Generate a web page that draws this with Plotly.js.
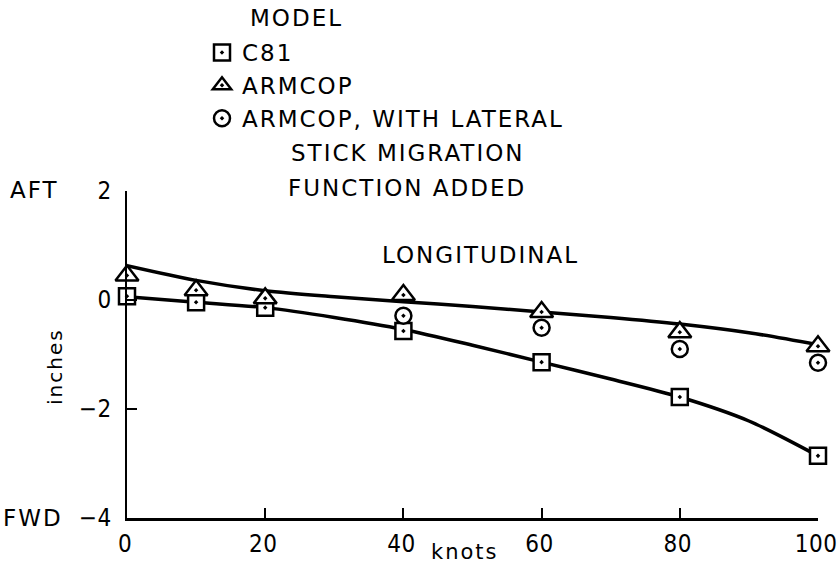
<!DOCTYPE html>
<html><head><meta charset="utf-8">
<script src="https://cdn.plot.ly/plotly-3.0.1.min.js"></script>
<style>
html,body{margin:0;padding:0;background:#fff;}
#chart{width:840px;height:570px;}
svg text{letter-spacing:2px;}
#chart g.xtick text,#chart g.ytick text{letter-spacing:0.5px;}
</style></head><body><div id="chart"></div>
<script>
// Data
const speedKnots = [0, 10, 20, 40, 60, 80, 100];
const c81Inches = [0.07, -0.04, -0.14, -0.57, -1.14, -1.78, -2.86];
const armcopInches = [0.45, 0.18, 0.03, 0.09, -0.22, -0.59, -0.85];
const lateralKnots = [40, 60, 80, 100];
const lateralInches = [-0.29, -0.51, -0.90, -1.15];
const fairKnots = [0, 10, 20, 30, 40, 50, 60, 70, 80, 90, 100];
const fairUpper = [0.63, 0.36, 0.17, 0.06, -0.03, -0.12, -0.22, -0.32, -0.44, -0.60, -0.82];
const fairLower = [0.06, -0.04, -0.14, -0.32, -0.54, -0.83, -1.14, -1.45, -1.78, -2.22, -2.86];
const xTicks = [0, 20, 40, 60, 80, 100];
const yTicks = [-4, -2, 0, 2];
const legendTitle = 'MODEL';
const seriesNames = ['C81', 'ARMCOP', 'ARMCOP, WITH LATERAL'];
const legendExtra = ['STICK MIGRATION', 'FUNCTION ADDED'];

const FONT = 'DejaVu Sans, sans-serif';
const TICKFONT = 'Liberation Sans Narrow, DejaVu Sans Condensed, Liberation Sans, sans-serif';
const L = 127, T = 191, W = 691, H = 327;
const px = x => (x - L) / W;
const py = y => (T + H - y) / H;

const lineStyle = {color: '#000', width: 3.5, shape: 'spline', smoothing: 0.8};
const mk = (sym, size) => ({symbol: sym, size: size, color: '#fff', line: {color: '#000', width: 2.5}});

const traces = [
  {x: fairKnots, y: fairUpper, mode: 'lines', line: lineStyle, showlegend: false, hoverinfo: 'skip', cliponaxis: false},
  {x: fairKnots, y: fairLower, mode: 'lines', line: lineStyle, showlegend: false, hoverinfo: 'skip', cliponaxis: false},
  {x: speedKnots, y: c81Inches, mode: 'markers', name: seriesNames[0], marker: mk('square-dot', 16), cliponaxis: false},
  {x: speedKnots, y: armcopInches, mode: 'markers', name: seriesNames[1], marker: mk('triangle-up-dot', 20), cliponaxis: false},
  {x: lateralKnots, y: lateralInches, mode: 'markers', name: seriesNames[2], marker: mk('circle-dot', 16), cliponaxis: false}
];

const txt = (text, x, y, size, xanchor, extra) => Object.assign({
  text: text, xref: 'paper', yref: 'paper', x: px(x), y: py(y),
  xanchor: xanchor || 'center', yanchor: 'middle', showarrow: false,
  font: {family: FONT, size: size || 23, color: '#000'}
}, extra || {});

const annotations = [
  txt(legendTitle, 248, 18, 23, 'left'),
  txt(legendExtra[0], 407, 153, 23),
  txt(legendExtra[1], 407, 188, 23),
  txt('LONGITUDINAL', 480, 255, 23),
  txt('AFT', 34, 190, 23),
  txt('FWD', 33, 518, 23),
  txt('inches', 55, 367, 20, 'center', {textangle: -90}),
  txt('knots', 465, 552, 21)
];

const axisBase = {
  showline: true, linecolor: '#000', linewidth: 2.5, ticks: 'inside', ticklen: 10, tickwidth: 2,
  tickcolor: '#000', showgrid: false, zeroline: false, mirror: false, fixedrange: true,
  ticklabeloverflow: 'allow',
  tickfont: {family: TICKFONT, size: 24, color: '#000'}
};

const layout = {
  width: 840, height: 570,
  margin: {l: L, r: 840 - L - W, t: T, b: 570 - T - H},
  paper_bgcolor: '#fff', plot_bgcolor: '#fff',
  showlegend: true,
  legend: {
    x: px(202), y: py(31), xanchor: 'left', yanchor: 'top', xref: 'paper', yref: 'paper',
    bgcolor: 'rgba(0,0,0,0)', borderwidth: 0, traceorder: 'normal', itemsizing: 'trace',
    font: {family: FONT, size: 23, color: '#000'}
  },
  xaxis: Object.assign({}, axisBase, {range: [0, 100], tickvals: xTicks, ticktext: xTicks.map(String), ticklabelstandoff: 3, ticklabelshift: -2}),
  yaxis: Object.assign({}, axisBase, {range: [-4, 2], tickvals: yTicks, ticklabelstandoff: 8}),
  annotations: annotations
};

Plotly.newPlot('chart', traces, layout, {displayModeBar: false, staticPlot: true});
</script></body></html>
